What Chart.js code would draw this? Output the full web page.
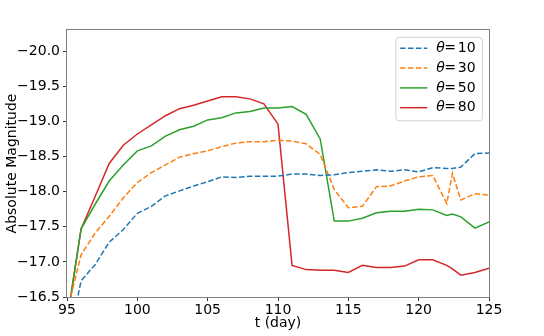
<!DOCTYPE html>
<html>
<head>
<meta charset="utf-8">
<script src="https://cdn.jsdelivr.net/npm/chart.js@4"></script>
<style>
  html, body { margin: 0; padding: 0; background: #fff; }
  #chart { display: block; }
</style>
</head>
<body>
<canvas id="chart" width="544" height="336"></canvas>
<script>
// days of the light curve (one extra sample near 122.4)
const days = [95, 96, 97, 98, 99, 100, 101, 102, 103, 104, 105, 106, 107, 108, 109, 110,
              111, 112, 113, 114, 115, 116, 117, 118, 119, 120, 121, 122, 122.4, 123, 124, 125];

const theta10 = [-15.75, -16.73, -16.96, -17.28, -17.46, -17.69, -17.79, -17.94, -18.01, -18.08,
                 -18.14, -18.21, -18.20, -18.22, -18.22, -18.22, -18.25, -18.25, -18.23, -18.24,
                 -18.27, -18.29, -18.31, -18.29, -18.31, -18.28, -18.34, -18.33, -18.33, -18.35,
                 -18.54, -18.55];
const theta30 = [-16.29, -17.10, -17.41, -17.65, -17.91, -18.13, -18.27, -18.38, -18.49, -18.54,
                 -18.58, -18.64, -18.69, -18.71, -18.71, -18.73, -18.72, -18.68, -18.53, -18.03,
                 -17.77, -17.79, -18.07, -18.08, -18.15, -18.21, -18.23, -17.83, -18.26, -17.88,
                 -17.97, -17.95];
const theta50 = [-16.16, -17.47, -17.82, -18.15, -18.38, -18.58, -18.65, -18.79, -18.88, -18.93,
                 -19.02, -19.05, -19.12, -19.14, -19.19, -19.19, -19.21, -19.10, -18.75, -17.58,
                 -17.58, -17.62, -17.70, -17.72, -17.72, -17.75, -17.74, -17.66, -17.68, -17.64,
                 -17.48, -17.57];
const theta80 = [-16.16, -17.47, -17.93, -18.40, -18.66, -18.82, -18.95, -19.08, -19.18, -19.23,
                 -19.29, -19.35, -19.35, -19.32, -19.25, -18.96, -16.95, -16.89, -16.88, -16.88,
                 -16.85, -16.95, -16.92, -16.92, -16.94, -17.03, -17.03, -16.95, -16.90, -16.81,
                 -16.85, -16.91];

const angles = [10, 30, 50, 80];
const xTicks = [95, 100, 105, 110, 115, 120, 125];
const yTicks = [-20.0, -19.5, -19.0, -18.5, -18.0, -17.5, -17.0, -16.5];

const FONT = 'DejaVu Sans';
const colors = ['#1f77b4', '#ff7f0e', '#2ca02c', '#d62728'];
const dashes = [[5.5, 2.4], [5.5, 2.4], [], []];
const series = [theta10, theta30, theta50, theta80];

function points(vals) {
    return days.map((d, i) => ({ x: d, y: vals[i] }));
}

const datasets = series.map((vals, i) => ({
    label: 'θ=' + angles[i],
    angle: angles[i],
    data: points(vals),
    borderColor: colors[i],
    borderWidth: 1.5,
    borderDash: dashes[i],
    pointRadius: 0,
    fill: false,
    tension: 0
}));

// box around the plot, like matplotlib spines
const framePlugin = {
    id: 'frame',
    afterDatasetsDraw(chart) {
        const a = chart.chartArea;
        const ctx = chart.ctx;
        ctx.save();
        ctx.strokeStyle = '#808080';
        ctx.lineWidth = 1;
        ctx.strokeRect(Math.round(a.left) - 0.5, Math.round(a.top) - 0.5,
                       Math.round(a.right - a.left) + 1, Math.round(a.bottom - a.top) + 1);
        ctx.restore();
    }
};

// legend drawn inside the plot, upper right
const legendPlugin = {
    id: 'boxLegend',
    afterDraw(chart) {
        const a = chart.chartArea;
        const ctx = chart.ctx;
        const w = 86.5, h = 83.5;
        const x0 = a.right - 6.7 - w;
        const y0 = a.top + 7.3;
        ctx.save();
        ctx.beginPath();
        ctx.roundRect(x0, y0, w, h, 3);
        ctx.fillStyle = 'rgba(255,255,255,0.8)';
        ctx.fill();
        ctx.strokeStyle = '#d0d0d0';
        ctx.lineWidth = 1;
        ctx.stroke();
        chart.data.datasets.forEach((ds, i) => {
            const y = y0 + 11 + i * 19.8;
            ctx.beginPath();
            ctx.setLineDash(ds.borderDash || []);
            ctx.strokeStyle = ds.borderColor;
            ctx.lineWidth = ds.borderWidth;
            ctx.moveTo(x0 + 4.3, y);
            ctx.lineTo(x0 + 31.5, y);
            ctx.stroke();
            ctx.setLineDash([]);
            ctx.fillStyle = '#000';
            ctx.textBaseline = 'middle';
            ctx.textAlign = 'left';
            ctx.font = 'italic 14px "' + FONT + '"';
            ctx.fillText('θ', x0 + 40.5, y);
            ctx.font = '14px "' + FONT + '"';
            ctx.fillText('=', x0 + 48.5, y);
            ctx.fillText(String(ds.angle), x0 + 62, y);
        });
        ctx.restore();
    }
};

new Chart(document.getElementById('chart'), {
    type: 'line',
    data: { datasets: datasets },
    options: {
        responsive: false,
        animation: false,
        events: [],
        layout: { padding: { top: 30, right: 55, left: 0, bottom: 0 } },
        plugins: {
            legend: { display: false },
            tooltip: { enabled: false }
        },
        scales: {
            x: {
                type: 'linear',
                min: 95,
                max: 125,
                afterBuildTicks: s => { s.ticks = xTicks.map(v => ({ value: v })); },
                afterFit: s => { s.height = 39; },
                grid: { drawOnChartArea: false, drawTicks: true, tickLength: 4, color: '#333' },
                border: { display: false },
                ticks: {
                    color: '#000',
                    padding: 1,
                    maxRotation: 0,
                    font: { family: FONT, size: 14 },
                    callback: v => String(v)
                },
                title: {
                    display: true,
                    text: 't (day)',
                    color: '#000',
                    font: { family: FONT, size: 14 },
                    padding: { top: 0, bottom: 4 }
                }
            },
            y: {
                type: 'linear',
                reverse: true,
                min: -20.3,
                max: -16.5,
                afterBuildTicks: s => { s.ticks = yTicks.map(v => ({ value: v })); },
                afterFit: s => { s.width = 67; },
                grid: { drawOnChartArea: false, drawTicks: true, tickLength: 4, color: '#333' },
                border: { display: false },
                ticks: {
                    color: '#000',
                    padding: 3,
                    font: { family: FONT, size: 14 },
                    callback: v => v.toFixed(1).replace('-', '\u2212')
                },
                title: {
                    display: true,
                    text: 'Absolute Magnitude',
                    color: '#000',
                    font: { family: FONT, size: 14 },
                    padding: { top: 4, bottom: 0 }
                }
            }
        }
    },
    plugins: [framePlugin, legendPlugin]
});
</script>
</body>
</html>
